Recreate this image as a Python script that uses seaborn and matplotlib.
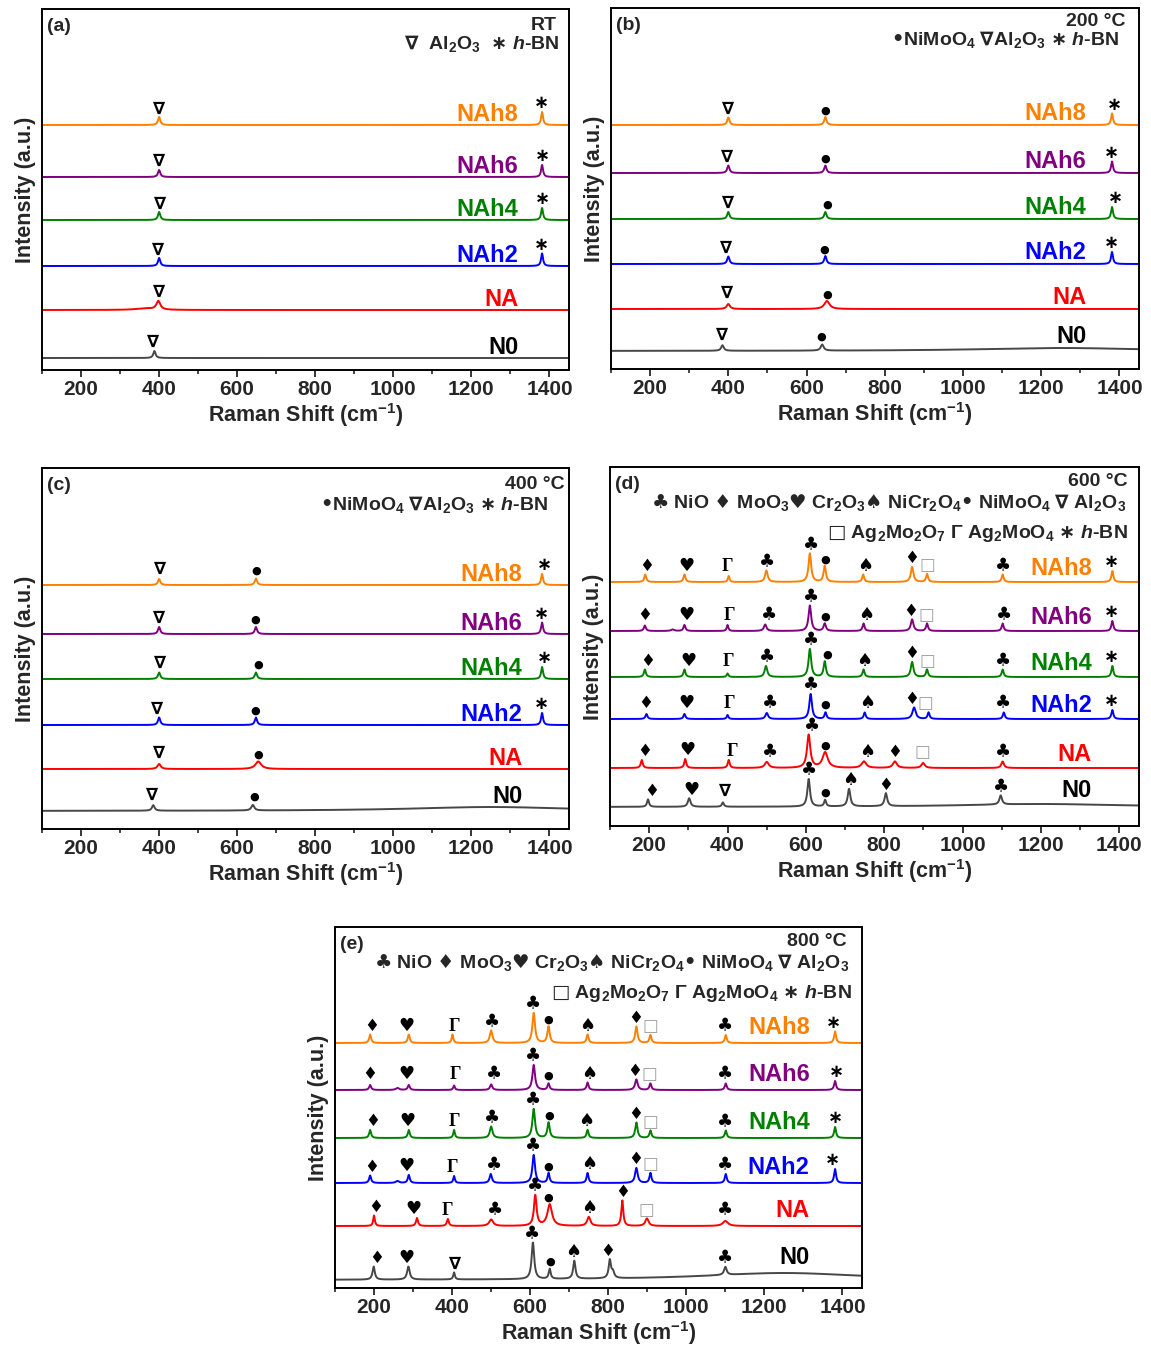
import numpy as np
import pandas as pd
import matplotlib
matplotlib.use("Agg")
import matplotlib.pyplot as plt
from matplotlib.ticker import MultipleLocator
import seaborn as sns

# ---------------- data ----------------
SAMPLES = ["N0", "NA", "NAh2", "NAh4", "NAh6", "NAh8"]
LINE_COLORS = ["#474747", "#ff0000", "#0000ff", "#008000", "#800080", "#ff8000"]
LABEL_COLORS = ["#000000", "#ff0000", "#0000ff", "#008000", "#800080", "#ff8000"]
X_TICKS = [200, 400, 600, 800, 1000, 1200, 1400]
PANEL_TAGS = ["(a)", "(b)", "(c)", "(d)", "(e)"]

# peaks: (Raman shift, height, half width) ; offsets: vertical stacking of each trace
A_OFFSETS = [12, 60, 104, 150, 193, 245]
A_PEAKS = {
    "N0": [(388, 7, 3.5)],
    "NA": [(398, 8.5, 6), (365, 1.5, 30)],
    "NAh2": [(400, 8, 3.5), (1381, 12.5, 3)],
    "NAh4": [(400, 8, 3.5), (1381, 12, 3)],
    "NAh6": [(400, 7, 3.5), (1381, 12, 3)],
    "NAh8": [(400, 8, 3.5), (1381, 13, 3)],
}
A_MARKS = {
    "N0": [(385, "v")],
    "NA": [(400, "v")],
    "NAh2": [(398, "v"), (1380, "b")],
    "NAh4": [(402, "v"), (1381, "b")],
    "NAh6": [(400, "v"), (1381, "b")],
    "NAh8": [(400, "v"), (1380, "b")],
}

B_OFFSETS = [18, 60, 105, 150, 196, 244]
B_PEAKS = {
    "N0": [(385, 5.5, 4), (640, 6, 4.5), (1250, 3, 250)],
    "NA": [(400, 5, 5), (652, 8, 8)],
    "NAh2": [(400, 7.5, 3.5), (648, 8, 3.5), (1381, 12, 3)],
    "NAh4": [(400, 7, 3.5), (648, 7, 3.5), (1381, 12, 3)],
    "NAh6": [(400, 7.5, 3.5), (648, 7.5, 3.5), (1381, 11.5, 3)],
    "NAh8": [(400, 7.5, 3.5), (648, 8, 3.5), (1381, 11.5, 3)],
}
B_MARKS = {
    "N0": [(385, "v"), (637, "o")],
    "NA": [(397, "v"), (652, "o")],
    "NAh2": [(393, "v"), (646, "o"), (1380, "b")],
    "NAh4": [(400, "v"), (652, "o"), (1389, "b")],
    "NAh6": [(397, "v"), (647, "o"), (1380, "b")],
    "NAh8": [(400, "v"), (649, "o"), (1386, "b")],
}

C_OFFSETS = [18, 60, 104, 150, 195, 244]
C_PEAKS = {
    "N0": [(385, 5.5, 4), (640, 5.5, 4.5), (1250, 4, 250)],
    "NA": [(400, 5, 5), (654, 7.5, 9)],
    "NAh2": [(400, 7.5, 3.5), (648, 7.5, 3.5), (1381, 12, 3)],
    "NAh4": [(400, 6.5, 3.5), (648, 6.5, 3.5), (1381, 12, 3)],
    "NAh6": [(400, 7, 3.5), (648, 7, 3.5), (1381, 11.5, 3)],
    "NAh8": [(400, 6, 3.5), (648, 6.5, 3.5), (1381, 11, 3)],
}
C_MARKS = {
    "N0": [(383, "v"), (643, "o")],
    "NA": [(399, "v"), (654, "o")],
    "NAh2": [(396, "v"), (647, "o"), (1380, "b")],
    "NAh4": [(402, "v"), (654, "o"), (1388, "b")],
    "NAh6": [(400, "v"), (647, "o"), (1380, "b")],
    "NAh8": [(402, "v"), (650, "o"), (1386, "b")],
}

D_OFFSETS = [19, 58, 107, 149, 195, 244]
D_PEAKS = {
    "N0": [(197, 7.5, 3), (302, 8.5, 4), (388, 4.3, 3), (607, 27.5, 4), (649, 6.5, 3),
           (710, 17.5, 4), (804, 13, 4), (1097, 9, 4), (1200, 3, 250)],
    "NA": [(181, 8, 3), (292, 9, 3), (403, 8, 3), (500, 6, 6), (607, 33, 5), (649, 15.5, 8),
           (748, 6.5, 7), (827, 6.5, 6), (899, 5, 5), (1102, 6.5, 4)],
    "NAh2": [(193, 5, 3), (290, 5, 3), (400, 4, 2.5), (500, 6, 4), (612, 25, 4), (650, 6.5, 3),
             (750, 6.5, 3), (876, 11.5, 5), (913, 6.5, 3), (1105, 6.5, 3), (1382, 9, 3)],
    "NAh4": [(189, 7.5, 3), (290, 7.5, 3), (400, 3.5, 2.5), (498, 11, 4), (610, 28, 4), (648, 15.5, 3.5),
             (747, 7.5, 3), (871, 15, 4), (909, 7.5, 3), (1102, 7.5, 3), (1382, 11, 3)],
    "NAh6": [(189, 5.5, 3), (260, 1.5, 5), (290, 6, 3), (400, 6, 2.5), (496, 6.5, 4), (610, 25.5, 4),
             (648, 7.5, 3.5), (747, 7.5, 3), (871, 11.5, 4), (909, 7.5, 3), (1102, 7.5, 3), (1382, 10, 3)],
    "NAh8": [(190, 7.5, 3), (290, 7.5, 3), (403, 6, 2.5), (499, 11.5, 4), (610, 28.5, 4), (648, 16, 3.5),
             (746, 7.5, 3), (871, 15, 4), (909, 8, 3), (1102, 7.5, 3), (1382, 11, 3)],
}
D_MARKS = {
    "N0": [(206, "d"), (309, "h"), (393, "v"), (607, "c"), (650, "o"), (713, "s"), (804, "d"), (1097, "c")],
    "NA": [(189, "d"), (298, "h"), (412, "g"), (508, "c"), (616, "c"), (650, "o"), (757, "s"),
           (827, "d"), (897, "q"), (1103, "c")],
    "NAh2": [(192, "d"), (295, "h"), (405, "g"), (508, "c"), (612, "c"), (650, "o"), (757, "s"),
             (869, "d"), (906, "q"), (1103, "c"), (1380, "b")],
    "NAh4": [(195, "d"), (299, "h"), (403, "g"), (500, "c"), (612, "c"), (655, "o"), (748, "s"),
             (869, "d"), (909, "q"), (1103, "c"), (1380, "b")],
    "NAh6": [(189, "d"), (296, "h"), (405, "g"), (506, "c"), (612, "c"), (650, "o"), (755, "s"),
             (867, "d"), (907, "q"), (1105, "c"), (1380, "b")],
    "NAh8": [(193, "d"), (295, "h"), (400, "g"), (501, "c"), (613, "c"), (649, "o"), (751, "s"),
             (869, "d"), (909, "q"), (1103, "c"), (1380, "b")],
}

E_OFFSETS = [8, 62, 105, 150, 198, 245]
E_PEAKS = {
    "N0": [(199, 13, 3.5), (288, 13, 4), (405, 7, 2.5), (607, 36.5, 4), (650, 10, 3), (713, 18, 3.5),
           (804, 18, 3.5), (812, 6, 4), (1100, 8, 4), (1250, 7, 250)],
    "NA": [(200, 10.5, 2.5), (310, 8, 3), (389, 7, 3), (500, 6.5, 6), (613, 30.5, 4), (650, 21.5, 7),
           (750, 9, 5), (836, 25.5, 3), (899, 7.5, 5), (1100, 5, 8)],
    "NAh2": [(190, 7.5, 3), (260, 2, 5), (289, 8, 3), (405, 7, 2.5), (499, 9, 3.5), (609, 28, 4),
             (647, 10, 3), (747, 10, 3), (872, 15, 4), (908, 10, 3), (1101, 9, 3), (1381, 14, 3)],
    "NAh4": [(190, 8, 3), (289, 8, 3), (405, 8, 2.5), (500, 11.5, 4), (609, 29, 4), (647, 15.5, 3.5),
             (747, 8, 3), (872, 15.5, 3.5), (908, 7.5, 3), (1101, 7.5, 3), (1381, 11, 3)],
    "NAh6": [(190, 5, 3), (260, 2, 5), (289, 5, 3), (405, 4.5, 2.5), (500, 5.5, 3.5), (609, 25, 4),
             (647, 6.5, 3), (747, 7.5, 3), (872, 10.5, 4), (908, 6.5, 3), (1101, 6.5, 3), (1381, 9, 3)],
    "NAh8": [(190, 8.5, 3), (289, 8.5, 3), (401, 8.5, 2.5), (500, 12.5, 4), (609, 30, 4), (647, 16.5, 3.5),
             (747, 8.5, 3), (872, 16.5, 3.5), (908, 8, 3), (1101, 8, 3), (1381, 11.5, 3)],
}
E_MARKS = {
    "N0": [(207, "d"), (283, "h"), (408, "v"), (605, "c"), (651, "o"), (711, "s"), (799, "d"), (1099, "c")],
    "NA": [(204, "d"), (302, "h"), (389, "g"), (509, "c"), (612, "c"), (647, "o"), (752, "s"),
           (836, "d"), (898, "q"), (1099, "c")],
    "NAh2": [(195, "d"), (282, "h"), (400, "g"), (507, "c"), (607, "c"), (647, "o"), (752, "s"),
             (869, "d"), (907, "q"), (1099, "c"), (1374, "b")],
    "NAh4": [(197, "d"), (285, "h"), (406, "g"), (501, "c"), (607, "c"), (649, "o"), (744, "s"),
             (869, "d"), (908, "q"), (1099, "c"), (1382, "b")],
    "NAh6": [(190, "d"), (282, "h"), (408, "g"), (507, "c"), (607, "c"), (647, "o"), (752, "s"),
             (867, "d"), (906, "q"), (1099, "c"), (1384, "b")],
    "NAh8": [(195, "d"), (282, "h"), (406, "g"), (501, "c"), (607, "c"), (647, "o"), (746, "s"),
             (869, "d"), (908, "q"), (1099, "c"), (1376, "b")],
}

HEAD_SIMPLE = r"$\mathcal{•}$NiMoO$_4$ $\mathcal{∇}$Al$_2$O$_3$ $\mathcal{∗}$ $\mathit{h}$-BN"
HEAD_FULL_1 = (r"$\mathcal{♣}$ NiO $\mathcal{♦}$ MoO$_3$$\mathcal{♥}$ Cr$_2$O$_3$$\mathcal{♠}$ "
               r"NiCr$_2$O$_4$$\mathcal{•}$ NiMoO$_4$ $\mathcal{∇}$ Al$_2$O$_3$")
HEAD_FULL_2 = r"$\mathcal{□}$ Ag$_2$Mo$_2$O$_7$ Γ Ag$_2$MoO$_4$ $\mathcal{∗}$ $\mathit{h}$-BN"
HEADERS = [
    ["RT", r"$\mathcal{∇}$  Al$_2$O$_3$  $\mathcal{∗}$ $\mathit{h}$-BN"],
    ["200 °C", HEAD_SIMPLE],
    ["400 °C", HEAD_SIMPLE],
    ["600 °C", HEAD_FULL_1, HEAD_FULL_2],
    ["800 °C", HEAD_FULL_1, HEAD_FULL_2],
]

# ---------------- style ----------------
sns.set_style("ticks")
plt.rcParams.update({
    "font.family": ["Liberation Sans", "DejaVu Sans"],
    "font.weight": "bold",
    "axes.labelweight": "bold",
    "mathtext.fontset": "custom",
    "mathtext.rm": "Liberation Sans:bold",
    "mathtext.bf": "Liberation Sans:bold",
    "mathtext.sf": "Liberation Sans:bold",
    "mathtext.it": "Liberation Sans:bold:italic",
    "mathtext.cal": "DejaVu Sans:bold",
    "mathtext.default": "rm",
    "mathtext.fallback": "stixsans",
    "axes.linewidth": 1.4,
    "axes.edgecolor": "black",
})

SYMBOLS = {
    "c": ("♣", 13, "black", ["DejaVu Sans"]),
    "d": ("♦", 12, "black", ["DejaVu Sans"]),
    "h": ("♥", 13, "black", ["DejaVu Sans"]),
    "s": ("♠", 13, "black", ["DejaVu Sans"]),
    "o": ("●", 8, "black", ["DejaVu Sans"]),
    "v": ("∇", 12.5, "black", ["DejaVu Sans"]),
    "b": ("∗", 13, "black", ["DejaVu Sans"]),
    "q": ("□", 12, "#a0a0a0", ["DejaVu Sans"]),
    "g": ("Γ", 13, "black", ["Liberation Serif"]),
}

PANELS = [
    dict(off=A_OFFSETS, peaks=A_PEAKS, marks=A_MARKS, rect=[42, 370, 527, 361], lab_x=1320, gap=4,
         head_pos=[(0.977, 0.955), (0.981, 0.905)]),
    dict(off=B_OFFSETS, peaks=B_PEAKS, marks=B_MARKS, rect=[611, 369, 528, 361], lab_x=1315, gap=5,
         head_pos=[(0.975, 0.962), (0.962, 0.912)]),
    dict(off=C_OFFSETS, peaks=C_PEAKS, marks=C_MARKS, rect=[42, 829, 527, 361], lab_x=1330, gap=4,
         head_pos=[(0.992, 0.955), (0.960, 0.900)]),
    dict(off=D_OFFSETS, peaks=D_PEAKS, marks=D_MARKS, rect=[610, 826, 529, 359], lab_x=1330, gap=7,
         head_pos=[(0.979, 0.960), (0.975, 0.902), (0.979, 0.815)]),
    dict(off=E_OFFSETS, peaks=E_PEAKS, marks=E_MARKS, rect=[335, 1288, 527, 361], lab_x=1316, gap=9,
         head_pos=[(0.970, 0.960), (0.975, 0.902), (0.980, 0.815)]),
]

W, H = 1151, 1349
fig = plt.figure(figsize=(W / 100, H / 100), dpi=100)
xgrid = np.arange(100, 1450.5, 0.5)


def trace(x, peaks):
    y = np.zeros_like(x)
    for c, h, w in peaks:
        y += h * w ** 2 / ((x - c) ** 2 + w ** 2)
    return y


palette = dict(zip(SAMPLES, LINE_COLORS))
for k, p in enumerate(PANELS):
    l, b, w, h = p["rect"]
    ax = fig.add_axes([l / W, 1 - b / H, w / W, h / H])
    rows = []
    curves = {}
    for s, off in zip(SAMPLES, p["off"]):
        y = off + trace(xgrid, p["peaks"][s])
        curves[s] = y
        rows.append(pd.DataFrame({"shift": xgrid, "intensity": y, "sample": s}))
    df = pd.concat(rows, ignore_index=True)
    sns.lineplot(data=df, x="shift", y="intensity", hue="sample", palette=palette,
                 estimator=None, sort=False, lw=1.4, legend=False, ax=ax)
    ax.set_xlim(100, 1450)
    ax.set_ylim(0, h)
    ax.set_yticks([])
    ax.set_xticks(X_TICKS)
    ax.xaxis.set_minor_locator(MultipleLocator(100))
    ax.tick_params(axis="x", which="major", direction="out", length=5, width=1.3,
                   labelsize=15, pad=2)
    ax.tick_params(axis="x", which="minor", direction="out", length=3, width=1.2)
    for t in ax.get_xticklabels():
        t.set_fontweight("bold")
    ax.set_xlabel("Raman Shift (cm$^{-1}$)", fontsize=15.5, fontweight="bold", labelpad=2)
    ax.set_ylabel("Intensity (a.u.)", fontsize=15.5, fontweight="bold", labelpad=4)
    for sp in ax.spines.values():
        sp.set_linewidth(1.4)

    # sample labels
    for s, off, lc in zip(SAMPLES, p["off"], LABEL_COLORS):
        yl = np.interp(1250, xgrid, curves[s]) + p["gap"]
        ax.text(p["lab_x"], yl, s, ha="right", va="baseline", fontsize=17,
                fontweight="bold", color=lc)

    # peak markers
    for s, off in zip(SAMPLES, p["off"]):
        for xm, code in p["marks"][s]:
            ch, fs, col, fam = SYMBOLS[code]
            win = (xgrid > xm - 12) & (xgrid < xm + 12)
            top = curves[s][win].max() - off
            ym = off + max(top + 3.5, 11)
            ax.text(xm, ym, ch, ha="center", va="baseline", fontsize=fs, color=col,
                    fontweight="bold", family=fam)

    # panel tag and headers
    ax.text(0.009, 0.975, PANEL_TAGS[k], transform=ax.transAxes, ha="left", va="top",
            fontsize=14, fontweight="bold")
    for j, (txt, pos) in enumerate(zip(HEADERS[k], p["head_pos"])):
        ax.text(pos[0], pos[1], txt, transform=ax.transAxes, ha="right", va="center",
                fontsize=14, fontweight="bold")

fig.savefig("out.png", dpi=100)
